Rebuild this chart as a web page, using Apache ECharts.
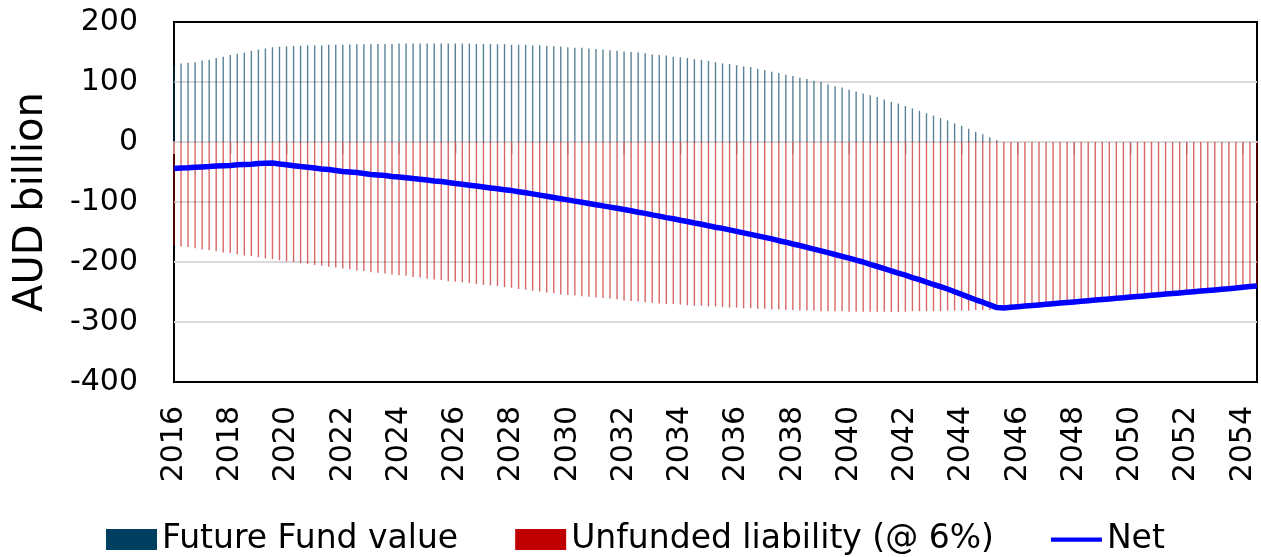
<!DOCTYPE html>
<html>
<head>
<meta charset="utf-8">
<title>Future Fund vs unfunded liability</title>
<script src="https://cdn.jsdelivr.net/npm/echarts@6/dist/echarts.min.js"></script>
<style>
  html, body { margin: 0; padding: 0; background: #fff; }
  #chart { width: 1261px; height: 557px; }
</style>
</head>
<body>
<div id="chart"></div>
<script>
  // quarterly points, 2016 Q1 .. 2054 Q3
  const firstYear = 2016;
  const quarters = [];
  for (let i = 0; i < 155; i++) {
    quarters.push((firstYear + Math.floor(i / 4)) + ' Q' + (i % 4 + 1));
  }

  // AUD billion
  const futureFund = [
    128, 131, 132, 133, 136, 137, 140, 142, 145, 147,
    149, 152, 154, 156, 158, 159, 159.5, 160, 160.5, 161,
    161, 161, 162, 162, 162, 162.5, 163, 163, 163, 163.5,
    163.5, 163.5, 164, 164, 164, 164, 164, 164, 164, 164,
    164, 164, 164, 163.5, 163.5, 163.5, 163, 163, 162, 162,
    162, 161, 161, 160, 159.5, 159, 158, 157, 157, 156,
    155, 154, 153, 152, 151, 150, 149, 148, 146, 145,
    144, 142, 141, 140, 138, 137, 135, 133, 131, 130,
    128, 126, 125, 122, 120, 117, 115, 112, 110, 107,
    105, 102, 100, 96, 93, 91, 87, 84, 81, 78,
    75, 71, 67, 64, 60, 56, 52, 48, 44, 40,
    36, 31, 27, 22, 17, 13, 8, 3, 0, 0,
    0, 0, 0, 0, 0, 0, 0, 0, 0, 0,
    0, 0, 0, 0, 0, 0, 0, 0, 0, 0,
    0, 0, 0, 0, 0, 0, 0, 0, 0, 0,
    0, 0, 0, 0, 0
  ];
  const unfunded = [
    -172, -174, -175, -177, -179, -180, -182, -184, -185, -187,
    -189, -190, -192, -194, -195, -197, -199, -200, -202, -203,
    -205, -206, -208, -209, -211, -212, -214, -215, -217, -218,
    -219, -221, -222, -223, -225, -226, -228, -229, -230, -232,
    -233, -234, -235, -237, -238, -239, -240, -242, -243, -245,
    -246, -248, -249, -251, -252, -254, -255, -256, -257, -258,
    -259, -260, -261, -262, -264, -265, -266, -267, -268, -269,
    -270, -270, -271, -272, -273, -273, -274, -274, -275, -276,
    -276, -277, -277, -278, -278, -279, -279, -280, -280, -281,
    -281, -281, -282, -282, -282, -282, -283, -283, -283, -283,
    -283, -283, -283, -283, -283, -282, -282, -282, -282, -282,
    -281, -281, -281, -281, -280, -280, -280, -279, -276.5, -275.5,
    -274.5, -273.5, -272.5, -271.5, -270.5, -269.5, -268.5, -267.5, -266.5, -265.5,
    -264.5, -263.5, -262.5, -261.5, -260.5, -259.5, -258.5, -257.5, -256.5, -255.5,
    -254.5, -253.5, -252.5, -251.5, -250.5, -249.5, -248.5, -247.5, -246.5, -245.5,
    -244.5, -243.5, -242, -241, -240
  ];
  const net = [
    -44, -43.5, -43, -42, -41.5, -41, -40, -39.5, -39, -38,
    -37.5, -37, -36, -35.5, -35, -36.5, -38, -39.5, -41, -42,
    -43.5, -45, -46, -47.5, -49, -50, -51, -52.5, -54, -55,
    -56, -57.5, -58.5, -59.5, -61, -62, -63.5, -65, -66, -67.5,
    -69, -70.5, -72, -73.5, -75, -76.5, -78, -79.5, -81, -83,
    -84.5, -86.5, -88.5, -90.5, -92.5, -94.5, -96.5, -98.5, -100.5, -102.5,
    -104.5, -106.5, -108.5, -110.5, -112.5, -114.5, -117, -119, -121.5, -123.5,
    -126, -128, -130.5, -132.5, -135, -137, -139.5, -142, -144, -146.5,
    -149, -151.5, -154, -156.5, -159, -161.5, -164.5, -167, -170, -172.5,
    -175.5, -178.5, -181.5, -184.5, -187.5, -190.5, -193.5, -197, -200, -204,
    -207.5, -211, -215, -218.5, -222, -226, -229.5, -233.5, -237.5, -241,
    -245, -249.5, -254, -258.5, -263, -267, -271.5, -276, -276.5, -275.5,
    -274.5, -273.5, -272.5, -271.5, -270.5, -269.5, -268.5, -267.5, -266.5, -265.5,
    -264.5, -263.5, -262.5, -261.5, -260.5, -259.5, -258.5, -257.5, -256.5, -255.5,
    -254.5, -253.5, -252.5, -251.5, -250.5, -249.5, -248.5, -247.5, -246.5, -245.5,
    -244.5, -243.5, -242, -241, -240
  ];

  const font = 'DejaVu Sans';
  const gridGrey = '#d9d9d9';
  const everyTwoYears = function (index) { return index % 8 === 0; };

  let chart = echarts.init(document.getElementById('chart'));
  chart.setOption({
    animation: false,
    textStyle: { fontFamily: font },
    grid: {
      left: 174, right: 4, top: 22, bottom: 175,
      show: true, borderColor: '#000', borderWidth: 2
    },
    legend: {
      left: 101, top: 518,
      itemWidth: 51, itemHeight: 21, itemGap: 57,
      textStyle: { fontSize: 33, color: '#000', fontFamily: font },
      data: [
        { name: 'Future Fund value', icon: 'rect', itemStyle: { color: '#003f5f', opacity: 1 } },
        { name: 'Unfunded liability (@ 6%)', icon: 'rect', itemStyle: { color: '#c00000', opacity: 1 } },
        { name: 'Net', icon: 'path://M0,0H60V5H0Z', itemStyle: { color: '#0000ff' } }
      ]
    },
    xAxis: [
      {
        // labels along the bottom of the plot
        type: 'category',
        data: quarters,
        boundaryGap: false,
        position: 'bottom',
        axisLine: { show: false, onZero: false },
        axisTick: { show: false },
        axisLabel: {
          interval: everyTwoYears,
          rotate: 90,
          margin: 24,
          fontSize: 30,
          color: '#000',
          fontFamily: font,
          formatter: function (v) { return v.slice(0, 4); }
        }
      },
      {
        // the zero line with its ticks
        type: 'category',
        data: quarters,
        boundaryGap: false,
        position: 'bottom',
        axisLine: { onZero: true, lineStyle: { color: gridGrey, width: 2 } },
        axisTick: { interval: everyTwoYears, length: 12, lineStyle: { color: gridGrey, width: 2 } },
        axisLabel: { show: false }
      }
    ],
    yAxis: {
      type: 'value',
      min: -400, max: 200, interval: 100,
      name: 'AUD billion',
      nameLocation: 'middle',
      nameGap: 122,
      nameTextStyle: { fontSize: 40, color: '#000', fontFamily: font },
      axisLine: { show: false },
      axisTick: { show: false },
      axisLabel: { fontSize: 30, color: '#000', margin: 36, fontFamily: font },
      // outer lines black so the plot frame stays black
      splitLine: {
        lineStyle: {
          color: ['#000', gridGrey, gridGrey, gridGrey, gridGrey, gridGrey, '#000'],
          width: 2
        }
      }
    },
    series: [
      {
        name: 'Future Fund value',
        type: 'bar',
        stack: 'total',
        data: futureFund,
        barWidth: 1.4,
        itemStyle: { color: '#003f5f', opacity: 0.65 }
      },
      {
        name: 'Unfunded liability (@ 6%)',
        type: 'bar',
        stack: 'total',
        data: unfunded,
        barWidth: 1.4,
        itemStyle: { color: '#c00000', opacity: 0.6 }
      },
      {
        name: 'Net',
        type: 'line',
        data: net,
        symbol: 'none',
        z: 5,
        itemStyle: { color: '#0000ff' },
        lineStyle: { color: '#0000ff', width: 5.5 }
      }
    ]
  });
</script>
</body>
</html>
